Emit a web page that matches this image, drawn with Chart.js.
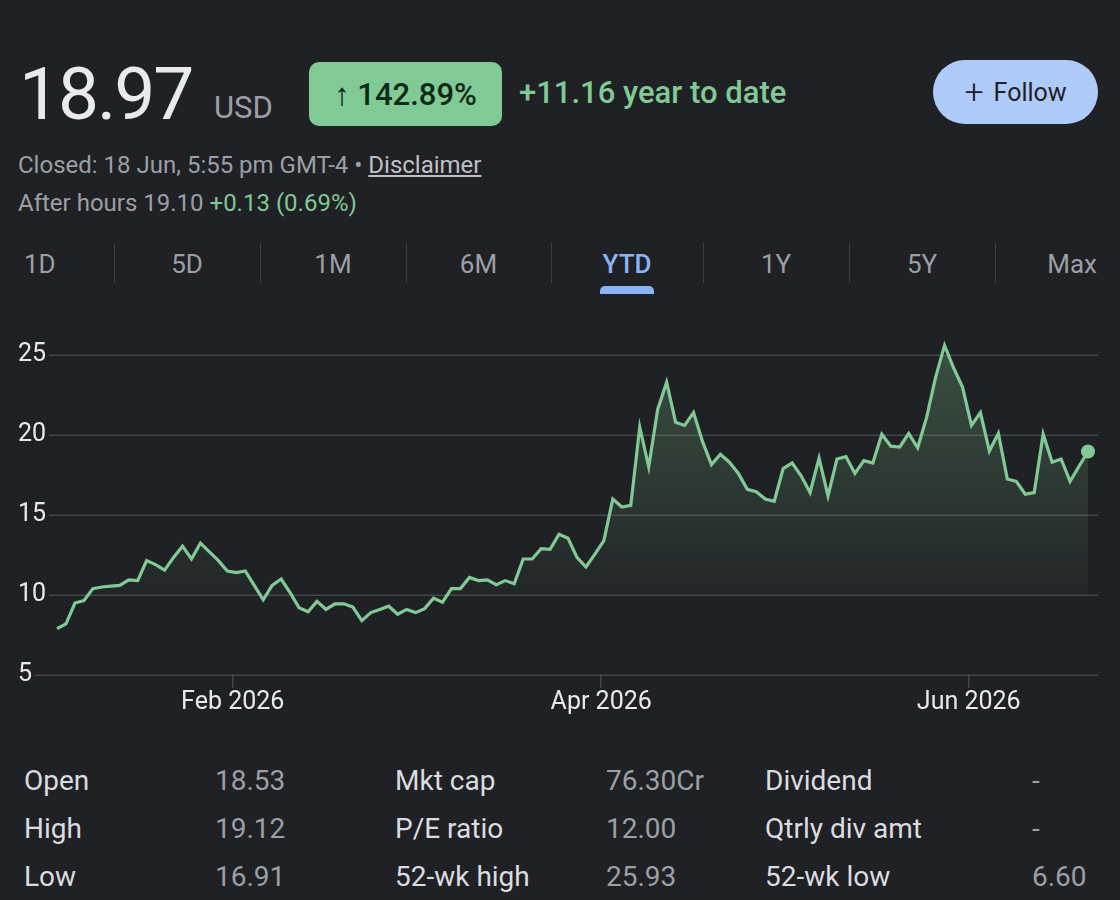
<!DOCTYPE html>
<html>
<head>
<meta charset="utf-8">
<script src="https://cdn.jsdelivr.net/npm/chart.js@4.4.1/dist/chart.umd.min.js"></script>
<style>
  body { margin:0; background:#202124; width:1120px; height:900px; overflow:hidden; position:relative; font-family: Roboto, "Noto Sans", sans-serif; color:#e8eaed; }
  .abs { position:absolute; line-height:1; white-space:nowrap; }
  .precio { left:19px; top:58px; font-size:73px; letter-spacing:-2px; color:#e8eaed; }
  .moneda { left:214px; top:92px; font-size:31px; color:#9aa0a6; }
  .badge { left:309px; top:62px; width:193px; height:64px; border-radius:10px; background:#81c995; color:#0f2a18; font-size:31px; font-weight:500; display:flex; align-items:center; justify-content:center; }
  .ytd { left:519px; top:77px; font-size:31px; font-weight:500; color:#81c995; }
  .follow { left:933px; top:60px; width:165px; height:64px; border-radius:32px; background:#aecbfa; color:#202124; font-size:25px; display:flex; align-items:center; justify-content:center; }
  .follow span { font-size:34px; font-weight:300; margin-right:10px; margin-top:-3px; }
  .gris { color:#9aa0a6; font-size:24px; }
  .verde { color:#81c995; }
  .disc { text-decoration:underline; color:#bdc1c6; }
  .tab { top:251px; font-size:26px; color:#9aa0a6; }
  .tab.on { color:#8ab4f8; font-weight:500; }
  .sep { position:absolute; top:243px; width:1px; height:40px; background:#3c4043; }
  .ind { position:absolute; left:600px; top:286px; width:54px; height:8px; background:#8ab4f8; border-radius:5px 5px 0 0; }
  .lab { font-size:28px; color:#dadce0; }
  .val { font-size:28px; color:#9aa0a6; }
  #wrap { position:absolute; left:0; top:320px; width:1120px; height:410px; }
</style>
</head>
<body>
  <div class="abs precio">18.97</div>
  <div class="abs moneda">USD</div>
  <div class="abs badge">↑ 142.89%</div>
  <div class="abs ytd">+11.16 year to date</div>
  <div class="abs follow"><span>+</span>Follow</div>

  <div class="abs gris" style="left:18px; top:153px;">Closed: 18 Jun, 5:55 pm GMT-4 • <span class="disc">Disclaimer</span></div>
  <div class="abs gris" style="left:18px; top:191px;">After hours 19.10 <span class="verde">+0.13 (0.69%)</span></div>

  <div id="tabs"></div>
  <div class="ind"></div>

  <div id="wrap"><canvas id="chartPrecio"></canvas></div>

  <div id="stats"></div>

<script>
// ==========================================
// DATOS
// ==========================================
// cierre diario YTD (2 ene - 18 jun 2026)
const precios = [
  7.9, 8.2, 9.5, 9.65, 10.4, 10.5, 10.55, 10.6, 10.95, 10.9,
  12.15, 11.9, 11.55, 12.35, 13.05, 12.25, 13.25, 12.7, 12.15, 11.5,
  11.4, 11.5, 10.6, 9.7, 10.6, 11.0, 10.15, 9.2, 8.95, 9.6,
  9.1, 9.45, 9.45, 9.25, 8.4, 8.9, 9.1, 9.3, 8.8, 9.1,
  8.9, 9.15, 9.8, 9.55, 10.4, 10.4, 11.1, 10.9, 10.95, 10.65,
  10.9, 10.7, 12.25, 12.25, 12.9, 12.85, 13.8, 13.55, 12.35, 11.75,
  12.55, 13.4, 16.0, 15.5, 15.6, 20.5, 18.0, 21.6, 23.3, 20.8,
  20.6, 21.4, 19.6, 18.15, 18.8, 18.3, 17.6, 16.6, 16.45, 16.0,
  15.85, 17.9, 18.25, 17.45, 16.4, 18.55, 16.2, 18.5, 18.65, 17.6,
  18.4, 18.25, 20.05, 19.3, 19.25, 20.1, 19.2, 21.1, 23.6, 25.6,
  24.2, 23.0, 20.6, 21.4, 19.0, 20.1, 17.25, 17.1, 16.3, 16.4,
  20.05, 18.3, 18.5, 17.1, 18.05, 18.97
];
const mesesTicks = [19.6, 60.7, 101.7];   // posicion (dia habil) del inicio de mes
const mesesEtiquetas = ['Feb 2026', 'Apr 2026', 'Jun 2026'];
const ticksY = [5, 10, 15, 20, 25];

const tabs = ['1D', '5D', '1M', '6M', 'YTD', '1Y', '5Y', 'Max'];
const statsLabels = [['Open', 'High', 'Low'], ['Mkt cap', 'P/E ratio', '52-wk high'], ['Dividend', 'Qtrly div amt', '52-wk low']];
const statsValores = [['18.53', '19.12', '16.91'], ['76.30Cr', '12.00', '25.93'], ['-', '-', '6.60']];

const VERDE = '#81c995';
const GRID = 'rgba(255,255,255,0.17)';
const FUENTE_EJES = { family: 'Roboto', size: 25 };

// ==========================================
// 1. TABS Y TABLA
// ==========================================
function pintarTabs() {
    const cont = document.getElementById('tabs');
    const centros = [null, 187, 333, 478.5, 627, 776, 922, null];
    const seps = [114, 260, 406, 551, 703, 849, 995];
    tabs.forEach((t, i) => {
        const d = document.createElement('div');
        d.className = 'abs tab' + (t === 'YTD' ? ' on' : '');
        d.textContent = t;
        if (i === 0) d.style.left = '24px';
        else if (i === tabs.length - 1) d.style.right = '23px';
        else { d.style.left = centros[i] + 'px'; d.style.transform = 'translateX(-50%)'; }
        cont.appendChild(d);
    });
    seps.forEach(x => {
        const s = document.createElement('div');
        s.className = 'sep';
        s.style.left = x + 'px';
        cont.appendChild(s);
    });
}

function pintarStats() {
    const cont = document.getElementById('stats');
    const colLab = [24, 395, 765];
    const colVal = [215, 606, 1032];
    const filas = [767, 815, 863];
    statsLabels.forEach((col, c) => {
        col.forEach((txt, f) => {
            const l = document.createElement('div');
            l.className = 'abs lab';
            l.style.left = colLab[c] + 'px';
            l.style.top = filas[f] + 'px';
            l.textContent = txt;
            cont.appendChild(l);

            const v = document.createElement('div');
            v.className = 'abs val';
            v.style.left = colVal[c] + 'px';
            v.style.top = filas[f] + 'px';
            v.textContent = statsValores[c][f];
            cont.appendChild(v);
        });
    });
}

// ==========================================
// 2. GRAFICA
// ==========================================
// lineas horizontales que empiezan justo despues de la etiqueta
const gridPlugin = {
    id: 'gridTrasEtiqueta',
    beforeDatasetsDraw(chart) {
        const { ctx, chartArea, scales } = chart;
        const y = scales.y;
        ctx.save();
        ctx.font = FUENTE_EJES.size + 'px ' + FUENTE_EJES.family;
        ctx.strokeStyle = GRID;
        ctx.lineWidth = 1.5;
        y.ticks.forEach(t => {
            const py = Math.round(y.getPixelForValue(t.value)) + 0.25;
            const ancho = ctx.measureText(String(t.value)).width;
            ctx.beginPath();
            ctx.moveTo(y.left + ancho + 3, py);
            ctx.lineTo(chartArea.right, py);
            ctx.stroke();
        });
        ctx.restore();
    }
};

function degradado(context) {
    const { chart } = context;
    const { ctx, chartArea, scales } = chart;
    if (!chartArea) return 'transparent';
    const top = scales.y.getPixelForValue(Math.max(...precios));
    const base = scales.y.getPixelForValue(10);
    const g = ctx.createLinearGradient(0, top, 0, base);
    g.addColorStop(0, 'rgba(129,201,149,0.28)');
    g.addColorStop(1, 'rgba(129,201,149,0.03)');
    return g;
}

function renderizarChart() {
    const ctx = document.getElementById('chartPrecio').getContext('2d');
    const ultimo = precios.length - 1;

    new Chart(ctx, {
        type: 'line',
        data: {
            datasets: [{
                data: precios.map((v, i) => ({ x: i, y: v })),
                borderColor: VERDE,
                borderWidth: 3.2,
                tension: 0,
                clip: false,
                fill: { target: { value: 10 }, above: degradado, below: 'transparent' },
                pointRadius: c => c.dataIndex === ultimo ? 7 : 0,
                pointBackgroundColor: VERDE,
                pointBorderWidth: 0,
                pointHoverRadius: 0
            }]
        },
        options: {
            responsive: true,
            maintainAspectRatio: false,
            animation: false,
            events: [],
            layout: { padding: { top: 35, right: 22, left: 18, bottom: 12 } },
            plugins: { legend: { display: false }, tooltip: { enabled: false } },
            scales: {
                x: {
                    type: 'linear',
                    min: -1.115,
                    max: 116.115,
                    afterBuildTicks: s => { s.ticks = mesesTicks.map(v => ({ value: v })); },
                    ticks: {
                        color: '#e8eaed',
                        font: FUENTE_EJES,
                        padding: 0,
                        maxRotation: 0,
                        autoSkip: false,
                        callback: (v) => mesesEtiquetas[mesesTicks.indexOf(v)] || ''
                    },
                    grid: { drawOnChartArea: false, drawTicks: true, tickLength: 13, color: GRID, lineWidth: 1.5 },
                    border: { display: false }
                },
                y: {
                    min: 5,
                    max: 25,
                    afterBuildTicks: s => { s.ticks = ticksY.map(v => ({ value: v })); },
                    afterFit: s => { s.width = 29; },
                    ticks: {
                        crossAlign: 'far',
                        color: '#e8eaed',
                        font: FUENTE_EJES,
                        callback: v => String(v)
                    },
                    grid: { display: false },
                    border: { display: false }
                }
            }
        },
        plugins: [gridPlugin]
    });
}

document.addEventListener('DOMContentLoaded', () => {
    pintarTabs();
    pintarStats();
    renderizarChart();
});
</script>
</body>
</html>
